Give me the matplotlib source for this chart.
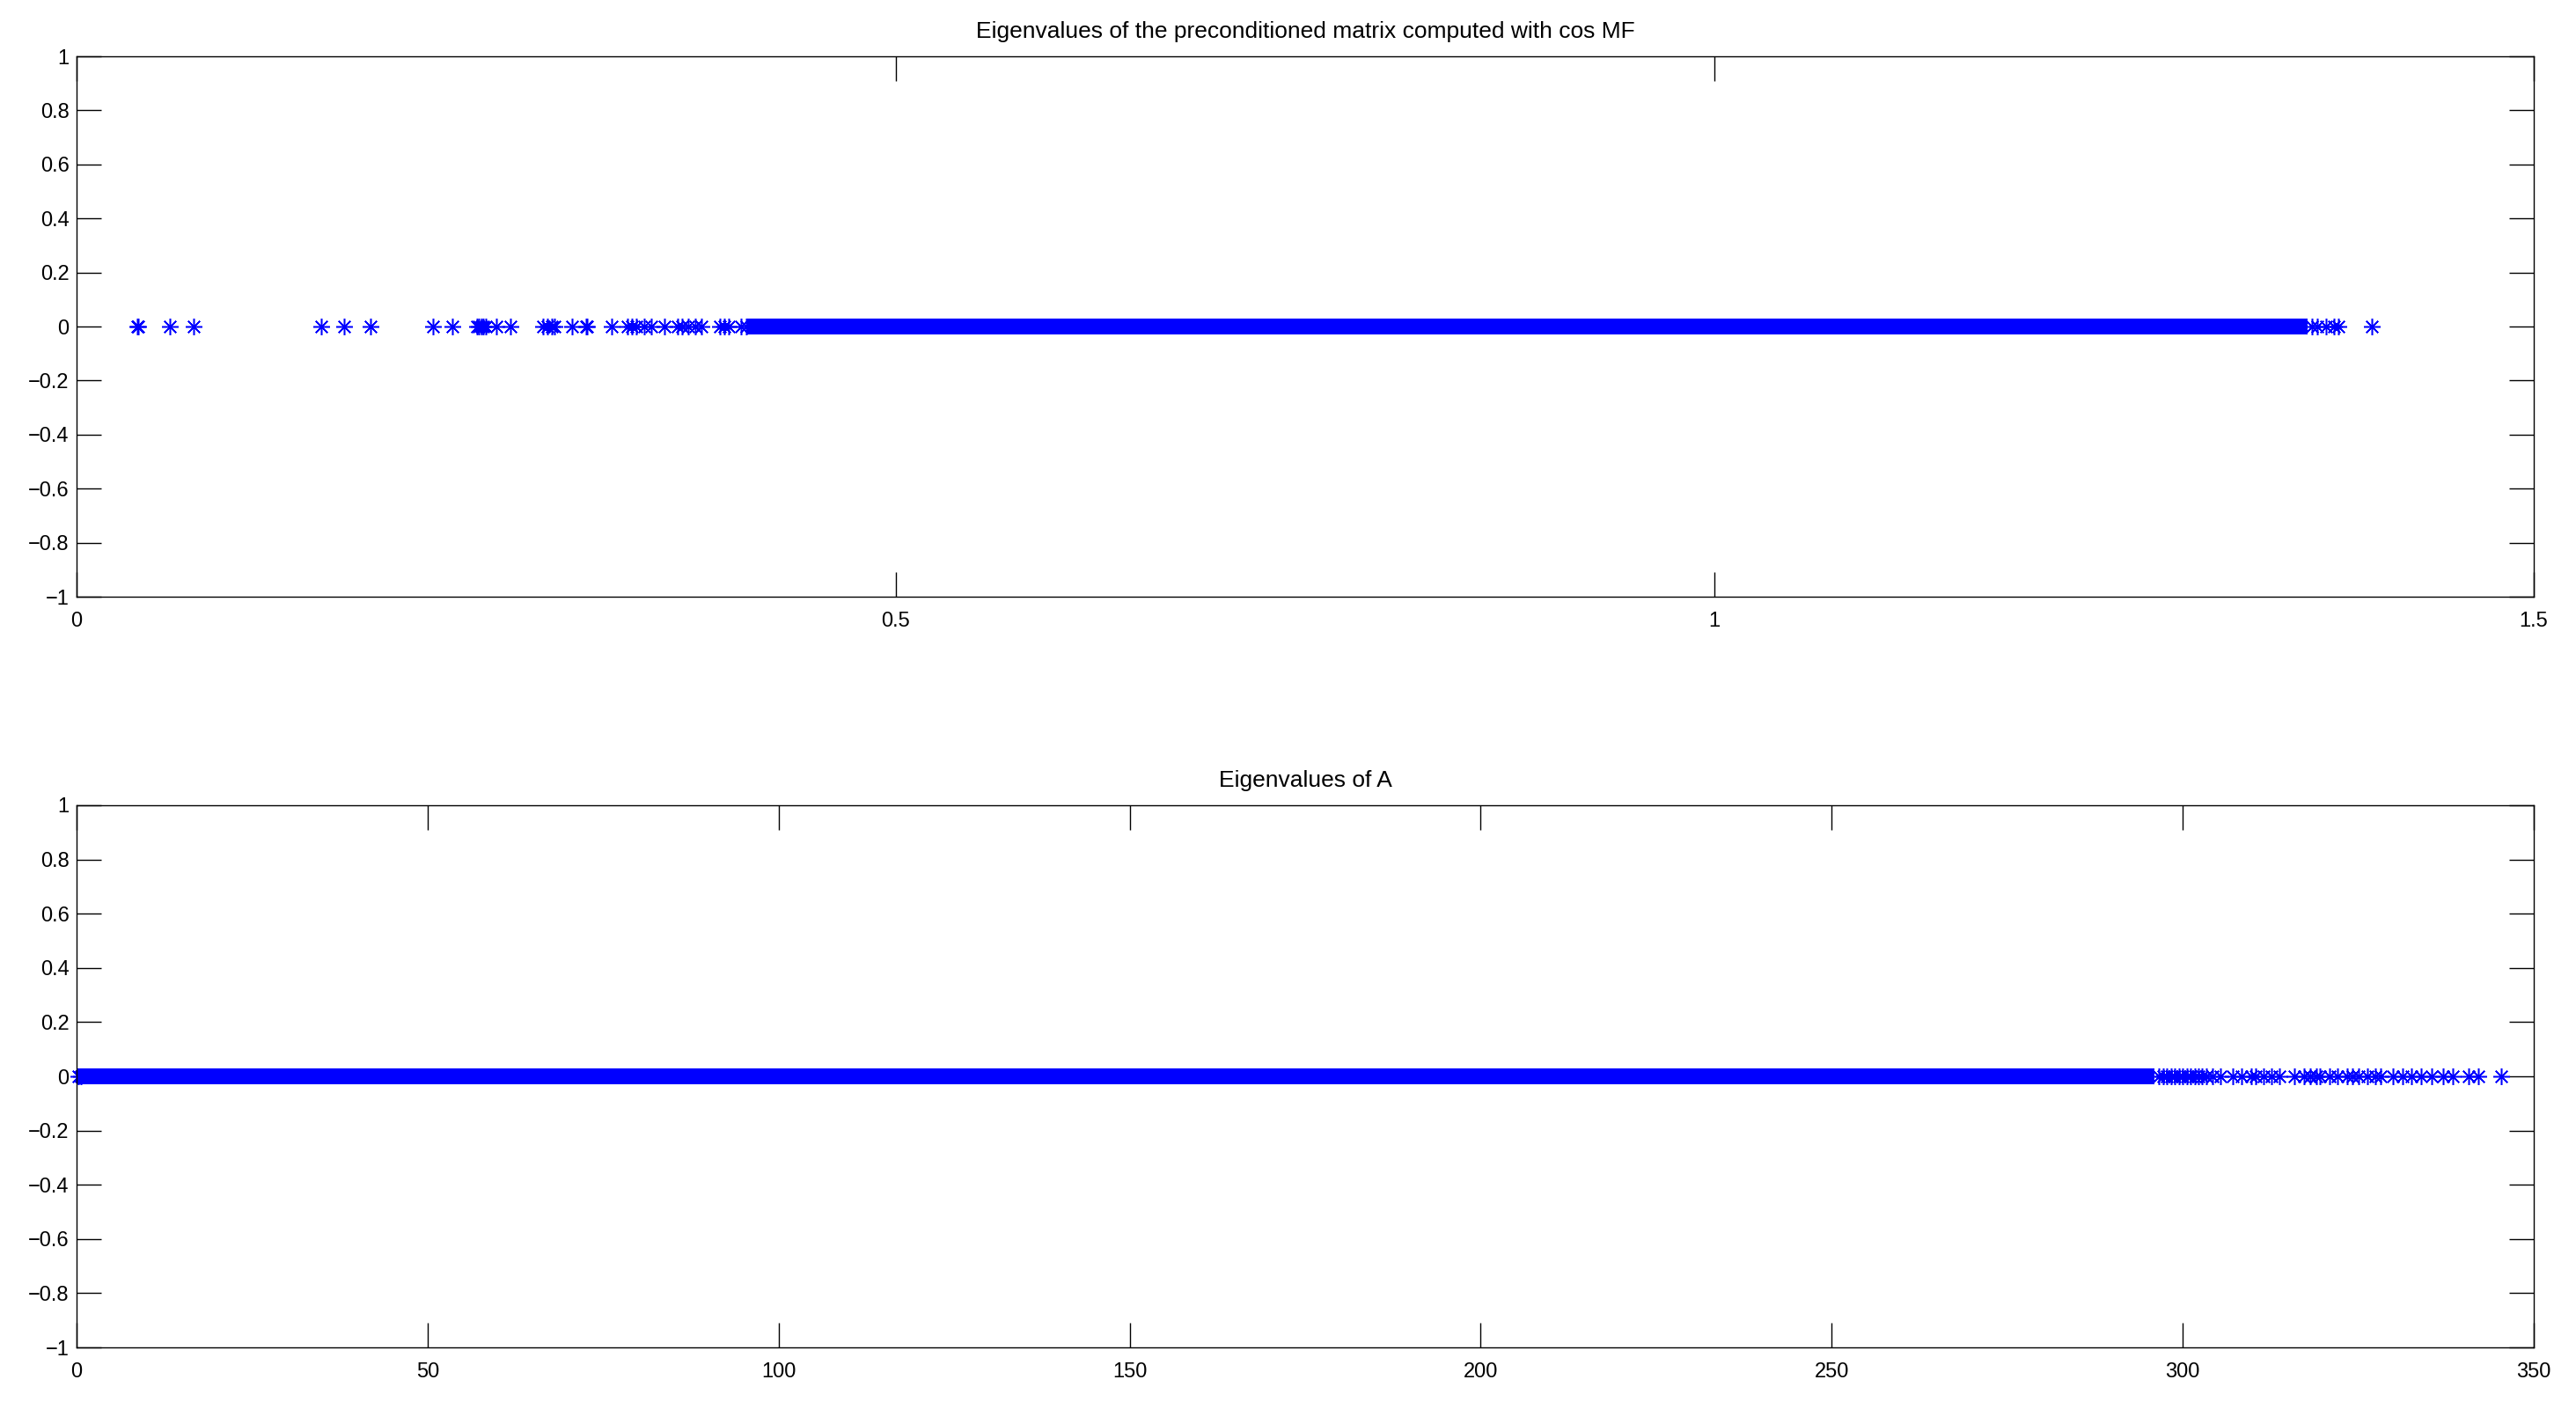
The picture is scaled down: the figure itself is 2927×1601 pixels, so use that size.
import matplotlib
matplotlib.use('Agg')
import matplotlib.pyplot as plt
import numpy as np

plt.rcParams['font.family'] = ['Liberation Sans', 'DejaVu Sans']

top_title = 'Eigenvalues of the preconditioned matrix computed with cos MF'
bottom_title = 'Eigenvalues of A'

# isolated eigenvalues of the preconditioned matrix
top_points = [0.0370, 0.0375, 0.0571, 0.0715, 0.1494, 0.1632, 0.1793,
              0.2178, 0.2294, 0.2445, 0.2458, 0.2470, 0.2485, 0.2498,
              0.2563, 0.2649, 0.2846, 0.2873, 0.2900, 0.2917, 0.3025,
              0.3110, 0.3118, 0.3267, 0.3365, 0.3392, 0.3419, 0.3464,
              0.3508, 0.3589, 0.3669, 0.3696, 0.3732, 0.3777, 0.3813,
              0.3929, 0.3956, 0.3983, 0.4056, 0.4090,
              1.3645, 1.3680, 1.3733, 1.3780, 1.3807, 1.4011]
# ranges where the eigenvalues are too dense to tell apart
top_bands = [(0.409, 1.362)]

# eigenvalues of A
bottom_points = [0.3, 0.6,
                 296.6, 297.2, 297.7, 298.3, 298.8, 299.5, 300.0, 300.6,
                 301.1, 301.7, 302.3, 302.8, 303.4,
                 304.2, 305.4, 307.1, 308.4, 309.8, 310.4, 311.5, 312.7,
                 313.8, 315.9, 317.3, 318.2, 319.0, 319.6, 320.9, 322.1,
                 323.4, 324.2, 325.0, 326.3, 327.4, 328.2, 329.9, 331.3,
                 332.6, 333.9, 335.4, 337.1, 338.5, 340.7, 342.1, 345.3]
bottom_bands = [(0.0, 296.0)]

top_xticks = [0, 0.5, 1, 1.5]
bottom_xticks = [0, 50, 100, 150, 200, 250, 300, 350]
yticks = [-1, -0.8, -0.6, -0.4, -0.2, 0, 0.2, 0.4, 0.6, 0.8, 1]


def fmt(v):
    return ('%g' % v).replace('-', '\u2212')


def draw(ax, points, bands, xticks, title):
    for lo, hi in bands:
        ax.hlines(0, lo, hi, colors='blue', linewidth=6.5, capstyle='butt')
    ax.plot(points, np.zeros(len(points)), linestyle='none', marker=(8, 2, 0),
            markersize=6.8, markeredgewidth=0.55, color='blue', clip_on=False)
    ax.set_xlim(xticks[0], xticks[-1])
    ax.set_ylim(-1, 1)
    ax.set_xticks(xticks)
    ax.set_xticklabels([fmt(v) for v in xticks])
    ax.set_yticks(yticks)
    ax.set_yticklabels([fmt(v) for v in yticks])
    ax.tick_params(direction='in', top=True, right=True, length=10, width=0.5,
                   labelsize=8.5, colors='black')
    ax.tick_params(axis='x', pad=6)
    ax.tick_params(axis='y', pad=3)
    for s in ax.spines.values():
        s.set_linewidth(0.5)
    ax.set_title(title, fontsize=9.5, pad=7.5)


fig = plt.figure(figsize=(14.635, 8.005), dpi=200)
ax1 = fig.add_axes([0.0297, 0.5765, 0.9539, 0.3835])
ax2 = fig.add_axes([0.0297, 0.0437, 0.9539, 0.3848])

draw(ax1, top_points, top_bands, top_xticks, top_title)
draw(ax2, bottom_points, bottom_bands, bottom_xticks, bottom_title)

fig.savefig('out.png', dpi=200)
